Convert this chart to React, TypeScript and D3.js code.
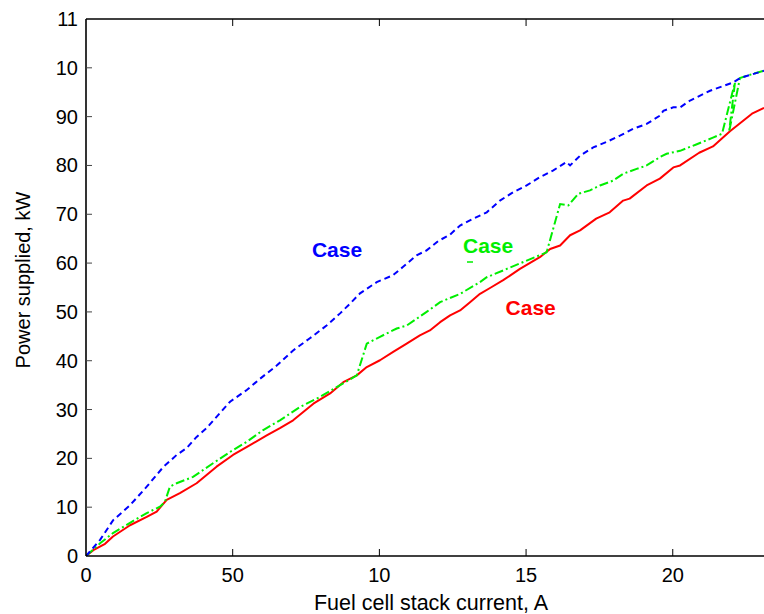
import React from "react";
import * as d3 from "d3";

const xTickValues = [0, 50, 100, 150, 200];
const xTickLabels = ["0", "50", "10", "15", "20"];
const yTickValues = [0, 10, 20, 30, 40, 50, 60, 70, 80, 90, 100, 110];
const yTickLabels = ["0", "10", "20", "30", "40", "50", "60", "70", "80", "90", "10", "11"];

const blueCase: [number, number][] = [
  [0, 0], [4.8, 3.3], [9.2, 7.3], [15, 10.4], [20.7, 14.2], [26.3, 18.2], [30.9, 20.7], [34.3, 22.1],
  [37.7, 24.4], [41.1, 26.2], [44.5, 28.5], [49.1, 31.6], [54.8, 34], [59.3, 36.3], [65, 39],
  [70.6, 42.1], [76.3, 44.6], [82, 47.2], [86.6, 49.7], [90, 51.7], [93.4, 53.8], [99.1, 56.1],
  [104.6, 57.5], [108, 59.2], [112.7, 61.6], [116.1, 62.6], [120, 64.5], [124, 65.8], [127.5, 67.7],
  [132, 69.1], [136.6, 70.4], [141.1, 72.8], [145.6, 74.5], [150.2, 75.9], [154.7, 77.6],
  [159.3, 79], [163.8, 80.7], [165, 80], [168.4, 82], [172.9, 83.7], [177.4, 84.8], [182, 86.1],
  [186.5, 87.5], [191.1, 88.5], [195.6, 90.2], [196.8, 91.2], [200.2, 91.9], [202.5, 91.9],
  [205.9, 93.3], [212.7, 95.3], [220.6, 97], [222.9, 97.9], [231.1, 99.4],
];

const greenCase: [number, number][] = [
  [0, 0], [4.8, 2.6], [9.2, 4.7], [15, 6.8], [20.7, 8.8], [25.2, 10.1], [26.9, 11.1], [28.6, 14.2],
  [30.9, 14.9], [36.5, 16.2], [43.3, 19], [49.1, 21.3], [54.8, 23.4], [60.4, 25.8], [66.1, 27.8],
  [72.9, 30.5], [79.8, 32.6], [86.6, 35], [92.3, 37], [95.7, 43.5], [100.2, 44.9], [105.9, 46.6],
  [109.3, 47.2], [116.1, 50], [120.7, 52], [127.5, 53.7], [134.3, 56.1], [136.6, 57.1],
  [143.4, 58.8], [150.2, 60.5], [157, 62.2], [161.6, 72.1], [164.4, 71.8], [167.8, 74.2],
  [171.8, 74.9], [175.2, 75.9], [179.7, 76.9], [183.1, 78.3], [187.7, 79.3], [191.1, 80],
  [195.6, 81.7], [197.9, 82.4], [202.5, 83], [208, 84.3], [213.7, 85.7], [216.8, 86.5],
  [221.2, 97], [219.2, 86.9], [222.9, 97.9], [227, 98.7], [231.1, 99.4],
];

const redCase: [number, number][] = [
  [0, 0], [2.5, 1.2], [6.5, 2.5], [9.2, 4], [15, 6.3], [20.7, 8], [24.1, 9.1], [27.5, 11.5],
  [32, 12.9], [37.7, 14.9], [44.5, 18.3], [50.1, 20.7], [55.9, 22.7], [61.6, 24.7], [66.1, 26.2],
  [70.6, 27.8], [77.5, 31.2], [83.2, 33.3], [87.7, 35.6], [92.3, 37], [95.7, 38.7], [100.2, 40.1],
  [104.7, 41.8], [109.3, 43.5], [113.8, 45.2], [117.2, 46.2], [120.7, 47.9], [124.1, 49.3],
  [127.5, 50.3], [130.9, 52], [134.3, 53.7], [138, 55], [142.2, 56.5], [147.9, 58.8],
  [154.7, 61.2], [158.2, 62.9], [161.6, 63.6], [165, 65.7], [168.4, 66.7], [173.9, 69.1],
  [178.5, 70.4], [183.1, 72.8], [185.3, 73.2], [191.1, 75.9], [195.6, 77.3], [200.2, 79.6],
  [202.5, 80], [209, 82.6], [213.7, 83.9], [219.5, 87], [227, 90.6], [231.1, 91.8],
];

const annotations = [
  { text: "Case", x: 77, y: 61.3, color: "#0000ff" },
  { text: "Case", x: 128.5, y: 62, color: "#00ee00" },
  { text: "Case", x: 143, y: 49.3, color: "#ff0000" },
];

export default function App() {
  const W = 764;
  const H = 614;
  const left = 86;
  const right = 764;
  const top = 19;
  const bottom = 556;
  const x = d3.scaleLinear().domain([0, 231.1]).range([left, right]);
  const y = d3.scaleLinear().domain([0, 110]).range([bottom, top]);
  const line = d3
    .line<[number, number]>()
    .x((d) => x(d[0]))
    .y((d) => y(d[1]));
  const font = "'Liberation Sans', Arial, Helvetica, sans-serif";

  return (
    <svg
      width={W}
      height={H}
      style={{ position: "absolute", left: 0, top: 0, background: "#fff" }}
      fontFamily={font}
    >
      <rect x={0} y={0} width={W} height={H} fill="#fff" />
      <defs>
        <clipPath id="plot">
          <rect x={left} y={top} width={right - left} height={bottom - top} />
        </clipPath>
      </defs>
      <g clipPath="url(#plot)">
        <path d={line(redCase) || ""} fill="none" stroke="#ff0000" strokeWidth={2} strokeLinejoin="round" />
        <path d={line(greenCase) || ""} fill="none" stroke="#00ee00" strokeWidth={2} strokeDasharray="9,3,2,3" />
        <path d={line(blueCase) || ""} fill="none" stroke="#0000ff" strokeWidth={2} strokeDasharray="6,4" />
      </g>
      <line x1={left} x2={right} y1={bottom} y2={bottom} stroke="#000" strokeWidth={1.6} />
      <line x1={left} x2={right} y1={top} y2={top} stroke="#000" strokeWidth={1.6} />
      <line x1={left} x2={left} y1={top} y2={bottom} stroke="#000" strokeWidth={1.6} />
      {xTickValues.map((v, i) => (
        <g key={"xt" + i}>
          {i > 0 && (
            <>
              <line x1={x(v)} x2={x(v)} y1={bottom} y2={bottom - 7} stroke="#000" strokeWidth={1} />
              <line x1={x(v)} x2={x(v)} y1={top} y2={top + 7} stroke="#000" strokeWidth={1} />
            </>
          )}
          <text x={x(v)} y={582} textAnchor="middle" fontSize={20} fill="#000">
            {xTickLabels[i]}
          </text>
        </g>
      ))}
      {yTickValues.map((v, i) => (
        <g key={"yt" + i}>
          {i > 0 && i < yTickValues.length - 1 && (
            <line x1={left} x2={left + 6} y1={y(v)} y2={y(v)} stroke="#444" strokeWidth={1} />
          )}
          <text x={78} y={y(v) + 7} textAnchor="end" fontSize={20} fill="#000">
            {yTickLabels[i]}
          </text>
        </g>
      ))}
      <text x={431} y={610} textAnchor="middle" fontSize={21.5} fill="#000">
        Fuel cell stack current, A
      </text>
      <text
        transform="translate(30,280) rotate(-90)"
        textAnchor="middle"
        fontSize={20}
        fill="#000"
      >
        Power supplied, kW
      </text>
      {annotations.map((a, i) => (
        <text key={"an" + i} x={x(a.x)} y={y(a.y)} fontSize={21} fontWeight="bold" fill={a.color}>
          {a.text}
        </text>
      ))}
      <line x1={467} x2={473} y1={262} y2={262} stroke="#00ee00" strokeWidth={1.5} />
    </svg>
  );
}
